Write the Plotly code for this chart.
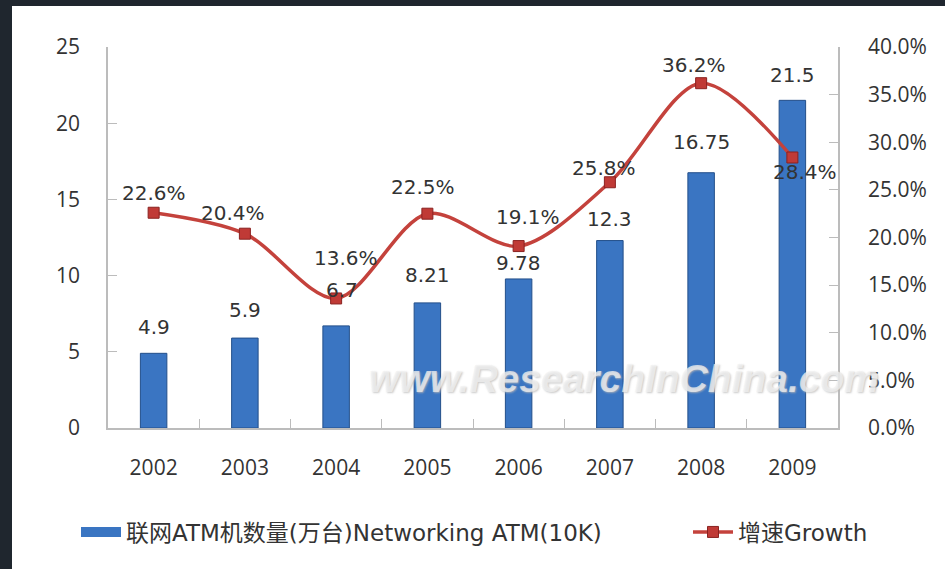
import plotly.graph_objects as go

years = ["2002", "2003", "2004", "2005", "2006", "2007", "2008", "2009"]
atm_10k = [4.9, 5.9, 6.7, 8.21, 9.78, 12.3, 16.75, 21.5]
growth = [0.226, 0.204, 0.136, 0.225, 0.191, 0.258, 0.362, 0.284]
atm_labels = ["4.9", "5.9", "6.7", "8.21", "9.78", "12.3", "16.75", "21.5"]
growth_labels = ["22.6%", "20.4%", "13.6%", "22.5%", "19.1%", "25.8%", "36.2%", "28.4%"]

bar_name = "联网ATM机数量(万台)Networking ATM(10K)"
line_name = "增速Growth"

# label offsets in pixels (style only)
bar_lbl_dx = [0, 0, 6, 0, 0, 0, 0, 0]
bar_lbl_dy = [26, 28, 36, 28, 16, 22, 31, 25]
gr_lbl_dx = [0, -12, 10, -4, 9, -6, -7, 13]
gr_lbl_dy = [20, 21, 40, 27, 29, 14, 18, -15]

W, H = 945, 569
L, R, T, B = 108, 107, 47, 141
pw, ph = W - L - R, H - T - B

def px2x(px):  # window pixel -> paper x
    return (px - L) / pw

def py2y(py):  # window pixel -> paper y
    return (H - B - py) / ph

DARK = "#1f262e"
BAR_COLOR = "#3a75c2"
lab_font = dict(family="DejaVu Sans", size=20, color="#333333")
tick_font = dict(family="Open Sans, Noto Sans CJK SC", size=21, color="#333333")
leg_font = dict(family="DejaVu Sans, Noto Sans CJK SC", size=23, color="#333333")

fig = go.Figure()
fig.add_trace(go.Bar(
    x=years, y=atm_10k, name=bar_name, width=0.29,
    marker=dict(color=BAR_COLOR, line=dict(color="#234f8a", width=1)),
    yaxis="y", showlegend=False,
))
# legend-only entry giving the bar series a wide, flat legend key
fig.add_trace(go.Scatter(
    x=[None], y=[None], name=bar_name, mode="lines",
    line=dict(color=BAR_COLOR, width=11), legend="legend", showlegend=True,
))
fig.add_trace(go.Scatter(
    x=years, y=growth, name=line_name, yaxis="y2", mode="lines+markers",
    line=dict(color="#c4423c", width=3.5, shape="spline", smoothing=0.9),
    marker=dict(symbol="square", size=11, color="#c03a36",
                line=dict(color="#8a2220", width=1)),
    legend="legend2",
))

ann = []
for i in range(len(years)):
    ann.append(dict(x=i, y=atm_10k[i], xref="x", yref="y", text=atm_labels[i],
                    showarrow=False, font=lab_font, xshift=bar_lbl_dx[i],
                    yshift=bar_lbl_dy[i], yanchor="middle"))
    ann.append(dict(x=i, y=growth[i], xref="x", yref="y2", text=growth_labels[i],
                    showarrow=False, font=lab_font, xshift=gr_lbl_dx[i],
                    yshift=gr_lbl_dy[i], yanchor="middle"))

ann.append(dict(x=px2x(624), y=py2y(378), xref="paper", yref="paper",
                xanchor="center", yanchor="middle",
                text="<b><i>www.ResearchInChina.com</i></b>", showarrow=False,
                font=dict(family="Liberation Sans", size=39,
                          color="rgba(242,242,242,0.75)",
                          shadow="1px 1px 2px #b8b8b8")))

fig.update_layout(
    width=W, height=H,
    margin=dict(l=L, r=R, t=T, b=B, pad=0),
    paper_bgcolor=DARK,
    plot_bgcolor="rgba(0,0,0,0)",
    showlegend=True,
    legend=dict(orientation="h", x=px2x(76), y=py2y(532), xanchor="left",
                yanchor="middle", font=leg_font, itemwidth=40,
                bgcolor="rgba(0,0,0,0)"),
    legend2=dict(orientation="h", x=px2x(688), y=py2y(532), xanchor="left",
                 yanchor="middle", font=leg_font, itemwidth=40,
                 bgcolor="rgba(0,0,0,0)"),
    annotations=ann,
    shapes=[dict(type="rect", xref="paper", yref="paper", layer="below",
                 x0=px2x(12), x1=px2x(W + 10), y0=py2y(H + 10), y1=py2y(6),
                 fillcolor="white", line=dict(width=0))],
    xaxis=dict(type="category", range=[-0.5, 7.5], showline=True,
               linecolor="#bcbcbc", linewidth=1.5,
               ticks="inside", tickson="boundaries", ticklen=9, tickcolor="#bcbcbc",
               tickfont=tick_font, ticklabelstandoff=20, showgrid=False, zeroline=False),
    yaxis=dict(range=[0, 25], dtick=5, showline=True, linecolor="#bcbcbc", linewidth=1.5,
               ticks="inside", ticklen=9, tickcolor="#bcbcbc", tickfont=tick_font,
               ticklabelstandoff=22, showgrid=False, zeroline=False),
    yaxis2=dict(range=[0, 0.4], dtick=0.05, tickformat=".1%", overlaying="y",
                side="right", showline=True, linecolor="#bcbcbc", linewidth=1.5,
                ticks="inside", ticklen=9, tickcolor="#bcbcbc", tickfont=tick_font,
                ticklabelstandoff=24, showgrid=False, zeroline=False),
)

fig.write_html(
    "out.html",
    config={"displayModeBar": False},
    post_script=("document.body.style.margin='0';"
                 "document.body.style.background='white';"
                 "document.body.style.overflow='hidden';"
                 "document.documentElement.style.overflow='hidden';"),
)
